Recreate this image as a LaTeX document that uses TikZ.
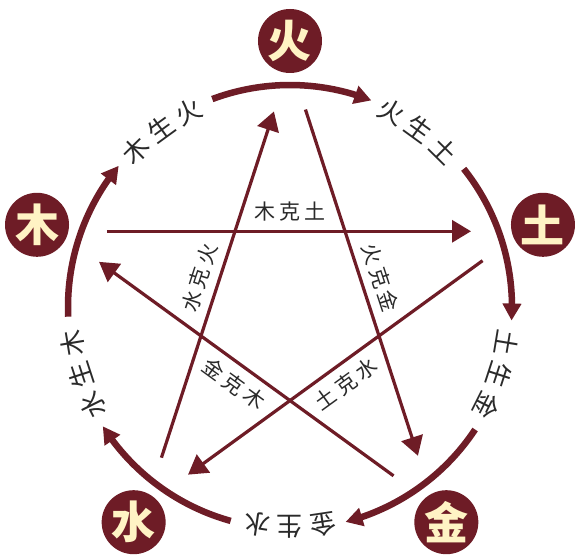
\documentclass[tikz,border=0pt]{standalone}
\usepackage{fontspec}
\setmainfont{Noto Sans CJK SC}
\usetikzlibrary{arrows.meta,bending}
\definecolor{maroon}{HTML}{6E1C26}
\definecolor{cream}{HTML}{FFF3C4}
\definecolor{inkc}{HTML}{2A2A2A}
\begin{document}
\begin{tikzpicture}[x=1pt,y=1pt,
  elem/.style={circle,fill=maroon,minimum size=64pt,inner sep=0pt,text=cream,
    font=\fontsize{44}{44}\selectfont\bfseries},
  ring/.style={draw=maroon,line width=6.5pt,-{Triangle[length=17pt,width=18pt]}},
  ke/.style={draw=maroon,line width=3.2pt,-{Triangle[length=19pt,width=22pt]},
    shorten <=50pt,shorten >=52pt},
  ringtxt/.style={text=inkc,font=\fontsize{26}{26}\selectfont,inner sep=0pt},
  ketxt/.style={text=inkc,font=\fontsize{21}{21}\selectfont,inner sep=0pt}]
\useasboundingbox (-290,-252) rectangle (292,307);
\fill[white] (-290,-252) rectangle (292,307);
% pentagram vertices
\coordinate (vhuo) at (90:245);
\coordinate (vmu) at (162:245);
\coordinate (vtu) at (18:245);
\coordinate (vshui) at (234:245);
\coordinate (vjin) at (306:245);
% element circles
\node[elem] (huo) at (90:266) {火};
\node[elem] (mu) at (162:266) {木};
\node[elem] (tu) at (18:266) {土};
\node[elem] (shui) at (234:266) {水};
\node[elem] (jin) at (306:266) {金};
% ke cycle
\draw[ke] (vmu) -- (vtu);
\draw[ke] (vtu) -- (vshui);
\draw[ke] (vshui) -- (vhuo);
\draw[ke] (vhuo) -- (vjin);
\draw[ke] (vjin) -- (vmu);
\node[ketxt] (lmt) at (90:95) {木\hspace{4pt}克\hspace{4pt}土};
\node[ketxt,rotate=72] (lsh) at (162:95) {水\hspace{4pt}克\hspace{4pt}火};
\node[ketxt,rotate=-72] (lhj) at (18:95) {火\hspace{4pt}克\hspace{4pt}金};
\node[ketxt,rotate=-36] (ljm) at (234:95) {金\hspace{4pt}克\hspace{4pt}木};
\node[ketxt,rotate=36] (ltsh) at (306:95) {土\hspace{4pt}克\hspace{4pt}水};
% sheng cycle arcs
\foreach \t in {90,18,-54,-126,162}{
  \draw[ring] (\t+20.5:222) arc[start angle=\t+20.5,end angle=\t-21.5,radius=222];
}
% sheng cycle texts
\foreach \i/\ang/\ca/\cb/\cc in {1/126/木/生/火, 2/54/火/生/土, 3/-18/土/生/金, 4/-90/金/生/水, 5/198/水/生/木}{
  \node[ringtxt,rotate=\ang+8.6-90] (s\i a) at (\ang+8.6:220) {\ca};
  \node[ringtxt,rotate=\ang-90] (s\i b) at (\ang:220) {\cb};
  \node[ringtxt,rotate=\ang-8.6-90] (s\i c) at (\ang-8.6:220) {\cc};
}
\end{tikzpicture}
\end{document}
